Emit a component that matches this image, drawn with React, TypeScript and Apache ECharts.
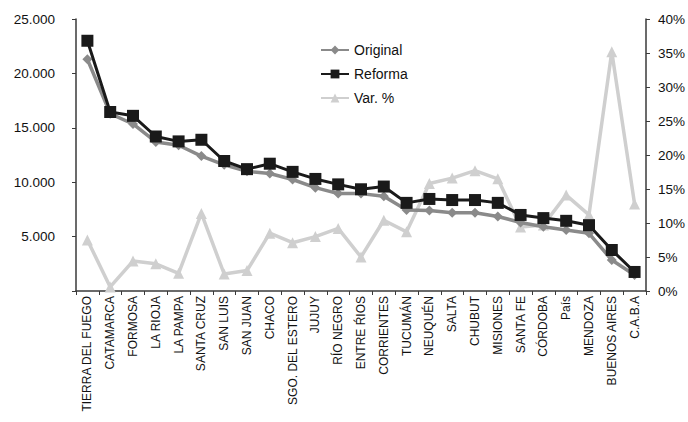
import React, { useEffect, useRef } from "react";
import * as echarts from "echarts";

const categories = [
  "TIERRA DEL FUEGO", "CATAMARCA", "FORMOSA", "LA RIOJA", "LA PAMPA", "SANTA CRUZ",
  "SAN LUIS", "SAN JUAN", "CHACO", "SGO. DEL ESTERO", "JUJUY", "RÍO NEGRO",
  "ENTRE ŔIOS", "CORRIENTES", "TUCUMÁN", "NEUQUÉN", "SALTA", "CHUBUT", "MISIONES",
  "SANTA FE", "CÓRDOBA", "País", "MENDOZA", "BUENOS AIRES", "C.A.B.A",
];

const original = [
  21300, 16300, 15350, 13700, 13400, 12400, 11600, 11000, 10800, 10250, 9500, 8950,
  8950, 8700, 7450, 7400, 7200, 7200, 6850, 6300, 5900, 5600, 5300, 2850, 1470,
];

const reforma = [
  23000, 16450, 16100, 14200, 13750, 13900, 11950, 11200, 11700, 10950, 10300, 9800,
  9350, 9600, 8100, 8460, 8360, 8360, 8100, 6990, 6700, 6450, 6050, 3770, 1750,
];

const varPct = [
  7.5, 0.6, 4.4, 4.0, 2.6, 11.4, 2.5, 3.0, 8.5, 7.1, 8.0, 9.2, 5.0, 10.4, 8.7, 15.8,
  16.6, 17.7, 16.5, 9.4, 9.7, 14.1, 11.2, 35.2, 12.8,
];

const leftTicks = { min: 0, max: 25000, interval: 5000 };
const rightTicks = { min: 0, max: 40, interval: 5 };

export default function App() {
  const ref = useRef<HTMLDivElement>(null);
  useEffect(() => {
    if (!ref.current) return;
    const chart = echarts.init(ref.current, undefined, { renderer: "svg" });
    const font = "Liberation Sans, Arial, sans-serif";
    const axisLineColor = "#3a3a3a";
    chart.setOption({
      animation: false,
      backgroundColor: "#ffffff",
      textStyle: { fontFamily: font },
      grid: { left: 76, right: 38, top: 19, bottom: 131 },
      legend: {
        orient: "vertical",
        left: 315,
        top: 38,
        itemWidth: 28,
        itemHeight: 11,
        itemGap: 10,
        textStyle: { fontSize: 14, color: "#111", fontFamily: font },
        data: ["Original", "Reforma", "Var. %"],
      },
      xAxis: {
        type: "category",
        data: categories,
        boundaryGap: true,
        axisLine: { lineStyle: { color: axisLineColor, width: 1.5 } },
        axisTick: { show: true, length: 4, lineStyle: { color: axisLineColor } },
        axisLabel: {
          interval: 0,
          rotate: 90,
          fontSize: 12,
          color: "#111",
          margin: 5,
          fontFamily: font,
        },
        splitLine: { show: false },
      },
      yAxis: [
        {
          type: "value",
          min: leftTicks.min,
          max: leftTicks.max,
          interval: leftTicks.interval,
          axisLine: { show: true, lineStyle: { color: axisLineColor, width: 1.5 } },
          axisTick: { show: true, length: 4, lineStyle: { color: axisLineColor } },
          splitLine: { show: false },
          axisLabel: {
            fontSize: 13.5,
            color: "#111",
            margin: 21,
            fontFamily: font,
            formatter: (v: number) =>
              v === 0 ? "" : v.toString().replace(/\B(?=(\d{3})+(?!\d))/g, "."),
          },
        },
        {
          type: "value",
          min: rightTicks.min,
          max: rightTicks.max,
          interval: rightTicks.interval,
          position: "right",
          axisLine: { show: true, lineStyle: { color: axisLineColor, width: 1.5 } },
          axisTick: { show: true, length: 4, lineStyle: { color: axisLineColor } },
          splitLine: { show: false },
          axisLabel: {
            fontSize: 13.5,
            color: "#111",
            margin: 12,
            fontFamily: font,
            formatter: "{value}%",
          },
        },
      ],
      series: [
        {
          name: "Var. %",
          type: "line",
          yAxisIndex: 1,
          data: varPct,
          symbol: "triangle",
          symbolSize: 11,
          z: 1,
          lineStyle: { color: "#cfcfcf", width: 3.5 },
          itemStyle: { color: "#cfcfcf" },
        },
        {
          name: "Original",
          type: "line",
          yAxisIndex: 0,
          data: original,
          symbol: "diamond",
          symbolSize: 10,
          z: 2,
          lineStyle: { color: "#8a8a8a", width: 3.5 },
          itemStyle: { color: "#8a8a8a" },
        },
        {
          name: "Reforma",
          type: "line",
          yAxisIndex: 0,
          data: reforma,
          symbol: "rect",
          symbolSize: 12,
          z: 3,
          lineStyle: { color: "#1a1a1a", width: 3 },
          itemStyle: { color: "#1a1a1a" },
        },
      ],
    });
    return () => chart.dispose();
  }, []);
  return (
    <div
      ref={ref}
      style={{ position: "fixed", left: 0, top: 0, width: 688, height: 422, background: "#fff" }}
    />
  );
}
